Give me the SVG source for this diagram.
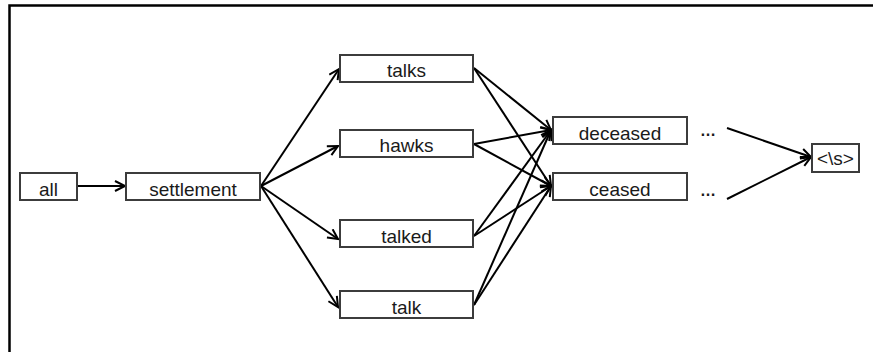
<svg xmlns="http://www.w3.org/2000/svg" width="873" height="352" viewBox="0 0 873 352">
  <style>
    .box { fill: #ffffff; stroke: #3c3c3c; stroke-width: 2; }
    .lbl { font-family: "Liberation Sans", Arial, sans-serif; font-size: 19px; fill: #1a1a1a; text-anchor: middle; }
    .dots { font-weight: bold; font-size: 16px; }
    .edge { stroke: #000000; stroke-width: 2; fill: none; marker-end: url(#head); }
  </style>
  <defs>
    <marker id="head" markerUnits="userSpaceOnUse" markerWidth="14" markerHeight="14" refX="11" refY="6" orient="auto">
      <path d="M1,1 L11,6 L1,11" fill="none" stroke="#000000" stroke-width="2"/>
    </marker>
  </defs>

  <rect width="873" height="352" fill="#ffffff"/>
  <!-- outer frame: only left and top edges fall inside the canvas -->
  <path d="M9.5,352 V5.5 H873" fill="none" stroke="#000000" stroke-width="2.5"/>

  <g id="connectors">
    <line class="edge" x1="78" y1="186" x2="125" y2="186"/>
    <line class="edge" x1="261" y1="186" x2="339" y2="69"/>
    <line class="edge" x1="261" y1="186" x2="338" y2="146"/>
    <line class="edge" x1="261" y1="186" x2="338" y2="239"/>
    <line class="edge" x1="261" y1="186" x2="338" y2="307"/>

    <line class="edge" x1="474" y1="68" x2="551" y2="130"/>
    <line class="edge" x1="474" y1="68" x2="551" y2="186"/>
    <line class="edge" x1="474" y1="144" x2="551" y2="130"/>
    <line class="edge" x1="474" y1="144" x2="551" y2="186"/>
    <line class="edge" x1="474" y1="236" x2="551" y2="130"/>
    <line class="edge" x1="474" y1="236" x2="551" y2="186"/>
    <line class="edge" x1="474" y1="305" x2="551" y2="130"/>
    <line class="edge" x1="474" y1="305" x2="551" y2="186"/>

    <line class="edge" x1="727" y1="128" x2="811" y2="157"/>
    <line class="edge" x1="727" y1="199" x2="811" y2="157"/>
  </g>

  <g id="all">
    <rect class="box" x="20" y="173" width="57" height="27"/>
    <text class="lbl" x="48.5" y="196">all</text>
  </g>
  <g id="settlement">
    <rect class="box" x="126" y="173" width="134" height="27"/>
    <text class="lbl" x="193" y="196">settlement</text>
  </g>
  <g id="talks">
    <rect class="box" x="340" y="55" width="133" height="27"/>
    <text class="lbl" x="406.5" y="77">talks</text>
  </g>
  <g id="hawks">
    <rect class="box" x="340" y="130" width="133" height="27"/>
    <text class="lbl" x="406.5" y="152">hawks</text>
  </g>
  <g id="talked">
    <rect class="box" x="340" y="220" width="133" height="27"/>
    <text class="lbl" x="406.5" y="243">talked</text>
  </g>
  <g id="talk">
    <rect class="box" x="340" y="291" width="133" height="27"/>
    <text class="lbl" x="406.5" y="314">talk</text>
  </g>
  <g id="deceased">
    <rect class="box" x="553" y="117" width="134" height="27"/>
    <text class="lbl" x="620" y="140">deceased</text>
  </g>
  <g id="ceased">
    <rect class="box" x="553" y="173" width="134" height="27"/>
    <text class="lbl" x="620" y="196">ceased</text>
  </g>
  <g id="ellipsis-upper">
    <text class="lbl dots" x="708" y="136">…</text>
  </g>
  <g id="ellipsis-lower">
    <text class="lbl dots" x="708" y="196">…</text>
  </g>
  <g id="end">
    <rect class="box" x="812" y="144" width="47" height="28"/>
    <text class="lbl" x="835.5" y="165">&lt;\s&gt;</text>
  </g>
</svg>
